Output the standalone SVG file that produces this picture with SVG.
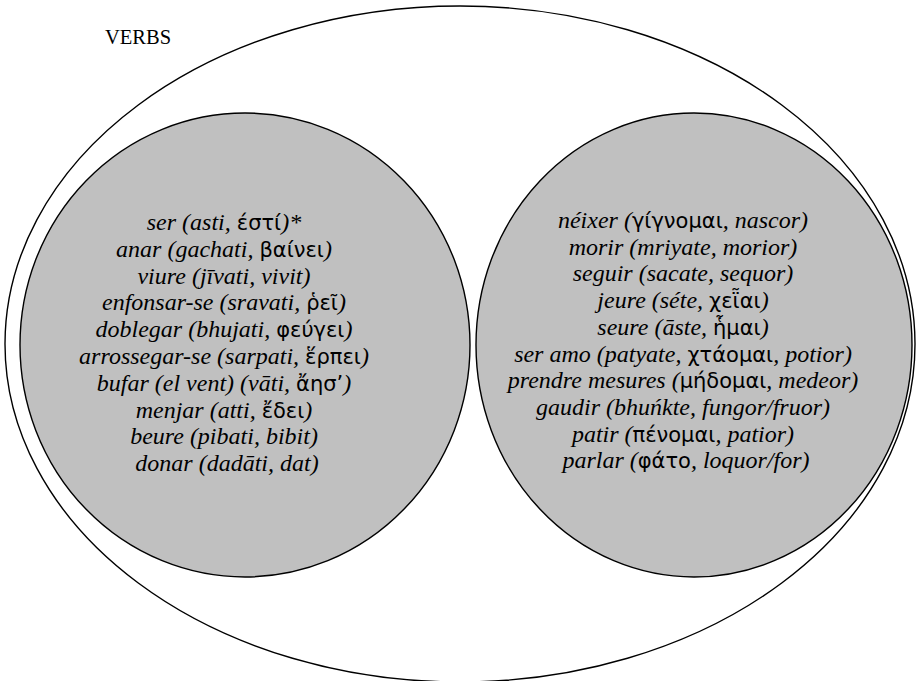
<svg xmlns="http://www.w3.org/2000/svg" width="916" height="681" viewBox="0 0 916 681">
<style>
.set{fill:#ffffff;stroke:#000000;stroke-width:1.4}
.sub{fill:#c0c0c0;stroke:#000000;stroke-width:1.4}
.lbl{font-family:"Liberation Serif","Times New Roman",serif;font-size:20.5px;fill:#000000}
.it{font-family:"Liberation Serif","Times New Roman",serif;font-size:24px;font-style:italic;fill:#000000;text-anchor:middle}
.gr{font-family:"DejaVu Sans","Liberation Serif",sans-serif;font-style:normal;font-size:21px}
</style>
<rect x="0" y="0" width="916" height="681" fill="#ffffff"/>
<g id="verbs">
<ellipse class="set" cx="460" cy="344" rx="455" ry="338"/>
<text class="lbl" x="105" y="44">VERBS</text>
</g>
<g id="left-set">
<ellipse class="sub" cx="245" cy="345" rx="225" ry="232"/>
<text class="it" x="227">
<tspan x="227" y="230">ser (asti, <tspan class="gr">έστί</tspan>)*</tspan>
<tspan x="227" y="256.8">anar (gachati, <tspan class="gr">βαίνει</tspan>)</tspan>
<tspan x="227" y="283.6">viure (jīvati, vivit)</tspan>
<tspan x="227" y="310.4">enfonsar-se (sravati, <tspan class="gr">ῥεῖ</tspan>)</tspan>
<tspan x="227" y="337.2">doblegar (bhujati, <tspan class="gr">φεύγει</tspan>)</tspan>
<tspan x="227" y="364">arrossegar-se (sarpati, <tspan class="gr">ἕρπει</tspan>)</tspan>
<tspan x="227" y="390.8">bufar (el vent) (vāti, <tspan class="gr">ἄησ’</tspan>)</tspan>
<tspan x="227" y="417.6">menjar (atti, <tspan class="gr">ἔδει</tspan>)</tspan>
<tspan x="227" y="444.4">beure (pibati, bibit)</tspan>
<tspan x="227" y="471.2">donar (dadāti, dat)</tspan>
</text>
</g>
<g id="right-set">
<ellipse class="sub" cx="694" cy="345" rx="218" ry="232"/>
<text class="it" x="686">
<tspan x="686" y="228">néixer (<tspan class="gr">γίγνομαι</tspan>, nascor)</tspan>
<tspan x="686" y="254.7">morir (mriyate, morior)</tspan>
<tspan x="686" y="281.4">seguir (sacate, sequor)</tspan>
<tspan x="686" y="308.1">jeure (séte, <tspan class="gr">χεῗαι</tspan>)</tspan>
<tspan x="686" y="334.8">seure (āste, <tspan class="gr">ἧμαι</tspan>)</tspan>
<tspan x="686" y="361.5">ser amo (patyate, <tspan class="gr">χτάομαι</tspan>, potior)</tspan>
<tspan x="686" y="388.2">prendre mesures (<tspan class="gr">μήδομαι</tspan>, medeor)</tspan>
<tspan x="686" y="414.9">gaudir (bhuńkte, fungor/fruor)</tspan>
<tspan x="686" y="441.6">patir (<tspan class="gr">πένομαι</tspan>, patior)</tspan>
<tspan x="686" y="468.3">parlar (<tspan class="gr">φάτο</tspan>, loquor/for)</tspan>
</text>
</g>
<g id="connectors"/>
</svg>
